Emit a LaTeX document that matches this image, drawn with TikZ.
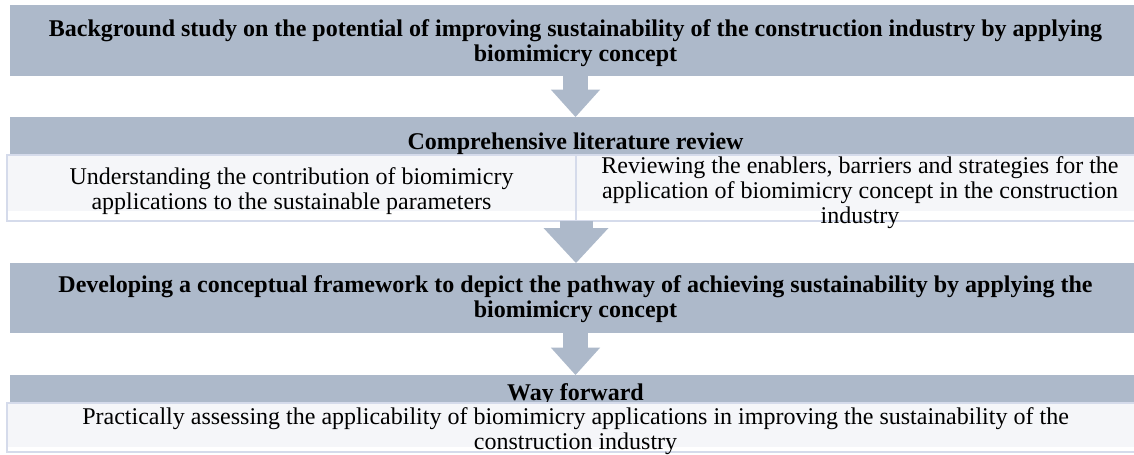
\documentclass[tikz,border=0pt]{standalone}
\usepackage{fontspec}
\setmainfont{Liberation Serif}
\usetikzlibrary{arrows.meta}

\definecolor{barfill}{HTML}{ADB9CA}
\definecolor{subfill}{HTML}{F5F6F9}
\definecolor{subline}{HTML}{D5DBEB}

\tikzset{
  size/.style 2 args={minimum width=#1*0.55pt, minimum height=#2*0.55pt},
  bar/.style={fill=barfill, inner sep=0pt, outer sep=0pt, anchor=north west},
  sub/.style={draw=subline, line width=1pt, fill=white, inner sep=0pt, outer sep=0pt, anchor=north west,
    path picture={\fill[subfill] (path picture bounding box.north west) rectangle ([yshift=#1]path picture bounding box.south east);}},
  sub/.default=5.5pt,
  txt/.style={inner sep=0pt, align=center, font=\fontsize{13.2}{13.75}\selectfont},
  head/.style={txt, font=\fontsize{13.2}{13.75}\selectfont\bfseries},
  blockarrow/.style={barfill, line width=13.75pt, -{Triangle[width=27pt, length=15pt, line width=0pt]}},
  bigblockarrow/.style={barfill, line width=18.15pt, -{Triangle[width=35.75pt, length=19.25pt, line width=0pt]}},
}

\begin{document}
\begin{tikzpicture}[x=0.55pt, y=-0.55pt]
\useasboundingbox (0,0) rectangle (1134,454);

% boxes
\node[bar, size={1131}{71}] (bg) at (10,5) {};
\node[bar, size={1131}{38}] (lit) at (10,117) {};
\node[sub, size={569}{66}] (litL) at (7,155) {};
\node[sub, size={568}{66}] (litR) at (576,155) {};
\node[bar, size={1131}{70}] (frame) at (10,263) {};
\node[bar, size={1131}{28}] (wf) at (10,375) {};
\node[head] (wfT) at (575.5,394.5) {Way forward};
\node[sub=2.75pt, size={1137}{49}] (prac) at (7,403) {};

% texts
\node[head] (bgT) at (575.5,43) {Background study on the potential of improving sustainability of the construction industry by applying\\biomimicry concept};
\node[head] (litT) at (575.5,143.5) {Comprehensive literature review};
\node[txt] (litLT) at (291.5,191.5) {Understanding the contribution of biomimicry\\applications to the sustainable parameters};
\node[txt] (litRT) at (860,192.5) {Reviewing the enablers, barriers and strategies for the\\application of biomimicry concept in the construction\\industry};
\node[head] (frameT) at (575.5,299.5) {Developing a conceptual framework to depict the pathway of achieving sustainability by applying the\\biomimicry concept};
\node[txt] (pracT) at (575.5,431.5) {Practically assessing the applicability of biomimicry applications in improving the sustainability of the\\construction industry};

% arrows
\draw[blockarrow] (bg.south) -- (lit.north);
\draw[bigblockarrow] (litL.south east) -- (litL.south east |- frame.north);
\draw[blockarrow] (frame.south) -- (wf.north);
\end{tikzpicture}
\end{document}
